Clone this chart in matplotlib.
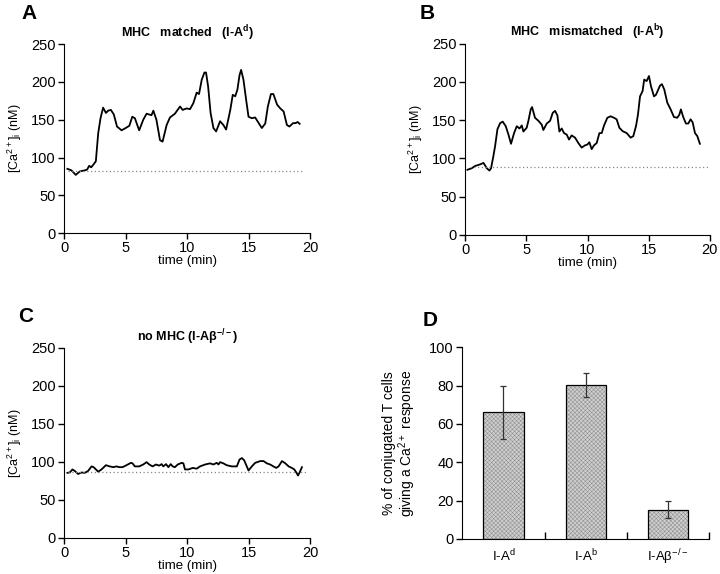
import numpy as np
import matplotlib
matplotlib.use("Agg")
import matplotlib.pyplot as plt

plt.rcParams["font.family"] = ["Liberation Sans", "DejaVu Sans"]
plt.rcParams["mathtext.fontset"] = "custom"
plt.rcParams["mathtext.rm"] = "Liberation Sans"
plt.rcParams["mathtext.bf"] = "Liberation Sans:bold"
plt.rcParams["hatch.linewidth"] = 0.35

# --- panel A: MHC matched (I-A^d) ---
t_a = [0.27, 0.6, 0.95, 1.28, 1.68, 1.87, 2.04, 2.2, 2.4, 2.58, 2.77, 2.96, 3.17, 3.4,
       3.58, 3.8, 4.04, 4.3, 4.67, 5.0, 5.3, 5.54, 5.75, 6.1, 6.43, 6.7, 7.1, 7.25, 7.5,
       7.79, 8.0, 8.33, 8.6, 9.0, 9.42, 9.63, 9.96, 10.23, 10.5, 10.77, 10.96, 11.18,
       11.4, 11.53, 11.7, 11.9, 12.13, 12.35, 12.67, 12.94, 13.16, 13.5, 13.7, 13.9,
       14.08, 14.25, 14.38, 14.57, 14.79, 14.98, 15.25, 15.52, 15.79, 16.06, 16.34,
       16.55, 16.8, 17.0, 17.3, 17.56, 17.83, 18.1, 18.3, 18.6, 18.8, 18.97, 19.13]
ca_a = [85, 83, 77, 81.6, 83, 84, 89, 87, 91, 95, 132, 152, 166, 159,
        162, 163, 157, 141, 136, 139, 142, 154, 152, 136, 150, 158, 156, 162, 150,
        123, 121, 143, 153, 158, 167.5, 163, 165, 164, 172, 186, 184, 203,
        212.5, 212.5, 194, 159, 139, 134.5, 148, 143, 137, 163, 183, 181,
        190, 209, 216, 203, 176, 154, 152, 153, 146, 139, 145,
        167.5, 184, 184, 170, 165, 161, 143, 141, 145.5, 145.5, 147, 144.6]
base_a = 82

# --- panel B: MHC mismatched (I-A^b) ---
t_b = [0.19, 0.54, 0.82, 1.22, 1.5, 1.77, 1.99, 2.12, 2.31, 2.45, 2.64, 2.86, 3.07, 3.32,
       3.54, 3.75, 4.0, 4.22, 4.44, 4.63, 4.76, 5.03, 5.17, 5.36, 5.47, 5.71, 5.99, 6.26,
       6.39, 6.67, 6.94, 7.16, 7.35, 7.54, 7.7, 7.89, 8.08, 8.3, 8.49, 8.7, 8.98, 9.25,
       9.52, 9.8, 9.99, 10.15, 10.34, 10.53, 10.75, 10.97, 11.16, 11.35, 11.62, 11.89,
       12.16, 12.38, 12.6, 12.87, 13.2, 13.52, 13.74, 13.96, 14.12, 14.29, 14.5, 14.63,
       14.83, 15.02, 15.18, 15.43, 15.59, 15.92, 16.08, 16.27, 16.52, 16.79, 17.06,
       17.33, 17.5, 17.63, 17.82, 18.04, 18.23, 18.42, 18.59, 18.78, 18.97, 19.18]
ca_b = [85, 87, 90, 92, 94, 87, 84, 87, 103, 116, 138, 146, 148, 142,
        131, 119, 133, 142, 139, 143, 135, 140, 149, 164, 167, 153, 149, 144,
        137, 145.5, 149, 159.5, 162, 156, 135, 139, 133, 131, 124.5, 130, 127, 120,
        114, 117, 118, 121, 112, 117, 120, 133, 133, 143, 153, 155,
        153, 151, 140, 135.5, 133, 127, 129, 142, 157, 181, 188, 203,
        201, 207.6, 194.5, 181, 183, 195, 197, 190, 172.6, 164, 154,
        153, 157, 164, 154, 145.5, 145.5, 151, 147, 133, 129, 119]
base_b = 88

# --- panel C: no MHC (I-Abeta-/-) ---
t_c = [0.27, 0.46, 0.68, 0.87, 1.14, 1.41, 1.68, 1.95, 2.23, 2.4, 2.77, 3.04, 3.4, 3.7,
       4.0, 4.26, 4.48, 4.75, 5.07, 5.43, 5.56, 5.75, 6.1, 6.43, 6.7, 6.92, 7.19, 7.46,
       7.73, 7.92, 8.06, 8.28, 8.47, 8.66, 8.82, 9.0, 9.23, 9.55, 9.69, 9.82, 10.1,
       10.45, 10.77, 11.04, 11.45, 11.86, 12.13, 12.4, 12.54, 12.67, 12.94, 13.2, 13.62,
       14.03, 14.25, 14.44, 14.63, 14.84, 14.98, 15.25, 15.52, 15.93, 16.2, 16.47,
       16.74, 17.0, 17.23, 17.42, 17.7, 17.97, 18.24, 18.5, 18.7, 18.86, 19.0, 19.13, 19.32]
ca_c = [85.5, 86, 90, 88, 84, 86, 85.5, 88, 94, 93, 87, 90, 95.6, 94,
        93, 94, 93, 93, 95.6, 98.7, 98, 94, 94, 96.5, 99.6, 96.5, 94, 96.5,
        95, 97, 94, 97, 93, 97, 94, 93, 96.5, 98.7, 98, 90, 90,
        92, 91, 94, 96.5, 98, 96.5, 98.7, 96.5, 99.6, 98, 95.6, 94,
        94, 103, 105, 102, 94, 88.6, 94, 98.7, 101, 101, 98,
        96.5, 94, 92, 94, 101, 98, 94, 92, 90, 86, 82, 86, 93]
base_c = 86

# --- panel D: % responding ---
groups = ["I-A$^{\\mathregular{d}}$", "I-A$^{\\mathregular{b}}$", "I-A\u03b2$^{\\mathregular{-/-}}$"]
pct = [66, 80.3, 15.3]
pct_err = [14, 6.5, 4.6]

fig = plt.figure(figsize=(7.2, 5.74), dpi=100)

traces = [
    ([0.089, 0.594, 0.342, 0.329], t_a, ca_a, base_a, (0.3, 19.3),
     "MHC   matched   (I-A$^{\\mathregular{d}}$)", "A", (-0.175, 1.165)),
    ([0.646, 0.591, 0.340, 0.333], t_b, ca_b, base_b, (0.4, 19.9),
     "MHC   mismatched   (I-A$^{\\mathregular{b}}$)", "B", (-0.185, 1.16)),
    ([0.089, 0.063, 0.342, 0.331], t_c, ca_c, base_c, (0.3, 19.7),
     "no MHC (I-A\u03b2$^{\\mathregular{-/-}}$)", "C", (-0.185, 1.165)),
]

for rect, t, ca, base, span, title, letter, lpos in traces:
    ax = fig.add_axes(rect)
    ax.plot(t, ca, color="black", lw=1.3)
    ax.plot(span, [base, base], color="#888888", lw=0.9, ls=(0, (1, 2)))
    ax.set_xlim(0, 20)
    ax.set_ylim(0, 250)
    ax.set_xticks([0, 5, 10, 15, 20])
    ax.set_yticks([0, 50, 100, 150, 200, 250])
    for s in ["top", "right"]:
        ax.spines[s].set_visible(False)
    ax.tick_params(direction="out", length=4, width=1, labelsize=10.5, pad=2)
    ax.set_xlabel("time (min)", fontsize=9.5, fontweight="normal", labelpad=0)
    ax.set_ylabel("[Ca$^{\\mathregular{2+}}$]$_{\\mathregular{i}}$ (nM)", fontsize=9, labelpad=5)
    ax.set_title(title, fontsize=9, fontweight="bold", pad=5)
    ax.text(lpos[0], lpos[1], letter, transform=ax.transAxes, fontsize=15,
            fontweight="bold", ha="left", va="center")

# bar chart
axd = fig.add_axes([0.642, 0.061, 0.343, 0.334])
xpos = np.arange(len(groups)) + 0.5
axd.bar(xpos, pct, width=0.49, color="#cfcfcf", edgecolor="#8c8c8c",
        hatch="xxxxxxxx", linewidth=0)
axd.bar(xpos, pct, width=0.49, fill=False, edgecolor="black", linewidth=0.9)
axd.errorbar(xpos, pct, yerr=pct_err, fmt="none", ecolor="#333333",
             elinewidth=0.9, capsize=2.5, capthick=0.9)
axd.set_xlim(0, 3)
axd.set_ylim(0, 100)
axd.set_yticks([0, 20, 40, 60, 80, 100])
axd.set_xticks([1, 2, 3])
axd.set_xticklabels([])
axd.tick_params(axis="x", direction="in", length=5, width=1)
axd.tick_params(axis="y", direction="out", length=4, width=1, labelsize=10.5, pad=2)
axd.set_xticks(xpos, minor=True)
axd.set_xticklabels(groups, minor=True, fontsize=9.5)
axd.tick_params(axis="x", which="minor", length=0, pad=6)
for s in ["top", "right"]:
    axd.spines[s].set_visible(False)
axd.set_ylabel("% of conjugated T cells\ngiving a Ca$^{\\mathregular{2+}}$ response",
               fontsize=10, labelpad=8, linespacing=1.05)
axd.text(-0.16, 1.14, "D", transform=axd.transAxes, fontsize=15,
         fontweight="bold", ha="left", va="center")

fig.savefig("out.png", dpi=100)
